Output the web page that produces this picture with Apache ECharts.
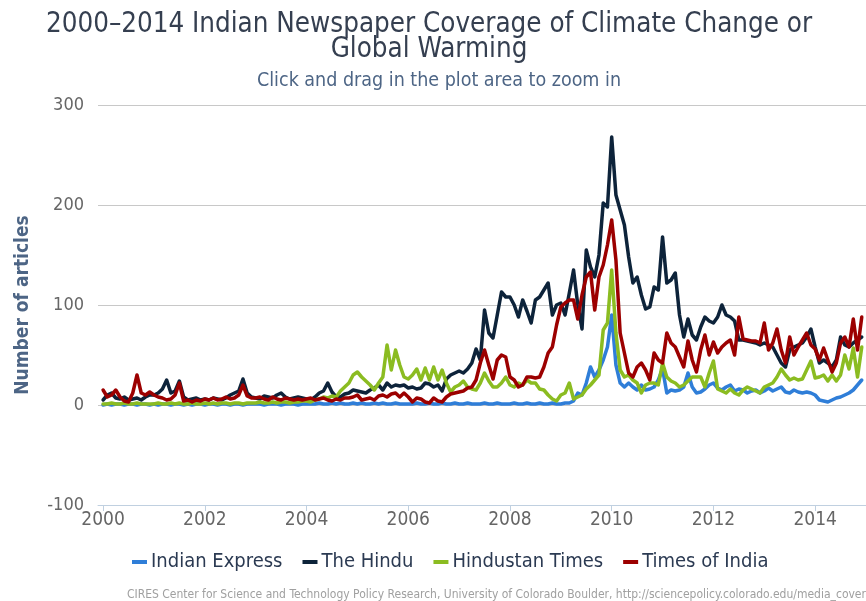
<!DOCTYPE html>
<html>
<head>
<meta charset="utf-8">
<script src="https://cdn.jsdelivr.net/npm/echarts@6/dist/echarts.min.js"></script>
<style>
html,body{margin:0;padding:0;background:#fff;}
#c{width:866px;height:601px;}
</style>
</head>
<body>
<div id="c"></div>
<script>
// Monthly article counts, Jan 2000 .. Dec 2014
const startYear = 2000;
const seriesNames = ['Indian Express', 'The Hindu', 'Hindustan Times', 'Times of India'];
const yearTicks = [2000, 2002, 2004, 2006, 2008, 2010, 2012, 2014];
const yTicks = [-100, 0, 100, 200, 300];

const indianExpress = [
  0,1,0,1,1,0,1,1,0,1,1,0,
  1,0,1,1,0,1,1,0,1,0,1,1,
  0,1,1,0,1,1,0,1,1,0,1,1,
  1,1,0,1,1,1,0,1,1,1,0,1,
  1,1,1,2,1,1,2,1,2,1,1,2,
  1,2,1,1,2,1,2,1,1,2,1,1,
  1,1,2,1,1,2,1,1,2,1,1,2,
  1,1,2,1,1,1,2,1,1,2,1,1,
  1,2,1,1,2,1,1,2,1,1,2,1,
  1,2,2,4,12,10,22,38,28,35,45,58,
  90,40,22,18,22,18,15,20,15,16,18,25,
  36,12,15,14,15,18,32,18,12,13,16,20,
  22,17,15,18,20,14,16,15,12,14,15,12,
  14,17,14,16,18,13,12,15,13,12,13,12,
  10,5,4,3,5,7,8,10,12,15,20,25
];
const theHindu = [
  5,10,12,7,6,8,5,6,7,5,8,10,
  10,12,16,25,12,14,24,8,5,6,7,5,
  6,5,7,6,5,7,10,12,14,26,12,8,
  7,6,9,8,7,10,12,8,6,7,8,7,
  6,5,8,12,14,22,13,8,8,11,12,15,
  14,13,12,15,17,20,15,22,18,20,19,20,
  17,18,16,17,22,21,18,20,14,26,30,32,
  34,32,36,42,56,45,95,72,67,90,113,108,
  108,100,88,105,94,82,105,108,115,122,90,100,
  102,90,112,135,100,76,155,138,128,150,202,198,
  268,210,195,180,148,122,128,110,96,98,118,115,
  168,122,125,132,90,68,86,70,65,78,88,84,
  82,88,100,90,88,84,65,65,64,63,62,60,
  62,60,58,50,42,38,55,58,60,62,68,76,
  58,42,45,42,38,45,68,60,58,62,65,68
];
const hindustanTimes = [
  1,1,2,1,1,2,1,1,2,1,1,1,
  1,2,1,1,2,1,2,1,1,2,1,1,
  2,1,2,1,2,2,1,2,2,1,2,2,
  2,3,2,2,3,2,3,3,2,3,3,4,
  4,3,5,6,8,7,9,8,14,18,22,30,
  33,28,24,20,15,22,28,60,35,55,40,28,
  26,30,36,25,37,25,38,25,35,22,13,18,
  20,24,18,16,15,22,32,24,18,18,22,28,
  20,18,22,20,25,22,22,16,15,10,6,4,
  10,12,22,6,8,10,16,20,25,30,75,82,
  135,72,35,28,30,25,22,12,20,22,22,20,
  42,28,24,22,18,20,24,28,28,28,18,32,
  44,16,14,12,16,12,10,15,18,16,14,12,
  18,20,22,28,36,30,25,27,25,26,35,44,
  27,28,30,24,30,24,30,50,36,57,28,58
];
const timesOfIndia = [
  15,8,10,15,8,4,3,12,30,12,10,13,
  10,8,7,5,6,10,22,4,5,3,5,4,
  6,5,7,5,6,8,6,7,10,20,9,7,
  7,8,6,5,8,6,5,7,6,5,6,5,
  6,7,5,6,7,5,4,6,5,7,7,8,
  10,5,6,7,5,9,10,8,11,12,8,12,
  8,3,7,6,3,2,7,4,3,8,11,12,
  13,14,17,18,25,42,55,40,26,45,50,48,
  28,25,18,20,28,28,27,28,38,52,58,80,
  98,102,105,105,86,110,128,133,95,128,140,160,
  185,145,72,52,32,28,38,42,35,25,52,45,
  42,72,62,58,48,38,64,45,33,55,70,50,
  63,52,58,62,65,50,88,66,65,64,64,62,
  82,55,62,76,55,42,68,50,58,65,72,60,
  56,45,57,45,33,42,62,68,58,86,55,88
];

const colors = ['#2f7ed8', '#0d233a', '#8bbc21', '#9c0000'];
const allValues = [indianExpress, theHindu, hindustanTimes, timesOfIndia];
const FONT = '"DejaVu Sans Condensed", "DejaVu Sans", sans-serif';

function toPairs(arr) {
  return arr.map((v, i) => [startYear + i / 12, v]);
}

const chart = echarts.init(document.getElementById('c'), null, {renderer: 'canvas'});
chart.setOption({
  animation: false,
  backgroundColor: '#ffffff',
  color: colors,
  title: [
    {
      text: '2000\u20132014 Indian Newspaper Coverage of Climate Change or\nGlobal Warming',
      left: 424, top: 7,
      textAlign: 'center',
      textStyle: {fontFamily: FONT, fontSize: 27.5, fontWeight: 'normal', color: '#353f50', lineHeight: 25, align: 'center'}
    },
    {
      text: 'Click and drag in the plot area to zoom in',
      left: 434, top: 66,
      textAlign: 'center',
      textStyle: {fontFamily: FONT, fontSize: 19.5, fontWeight: 'normal', color: '#4d6585'}
    },
    {
      text: 'CIRES Center for Science and Technology Policy Research, University of Colorado Boulder, http://sciencepolicy.colorado.edu/media_coverage',
      left: 122, top: 584,
      textStyle: {fontFamily: FONT, fontSize: 12, fontWeight: 'normal', color: '#a0a0a0'}
    }
  ],
  legend: {
    data: seriesNames,
    left: 127, top: 547,
    icon: 'rect', itemWidth: 15, itemHeight: 4, itemGap: 20,
    textStyle: {fontFamily: FONT, fontSize: 20, color: '#2b3a52', padding: [0, 0, 0, -1]}
  },
  grid: {left: 98, right: 0, top: 105, bottom: 96, containLabel: false},
  xAxis: {
    type: 'value',
    min: 1999.9, max: 2015,
    axisLine: {show: true, onZero: false, lineStyle: {color: '#c0d0e0', width: 1}},
    axisTick: {show: true, customValues: yearTicks, length: 6, lineStyle: {color: '#c0d0e0'}},
    axisLabel: {
      customValues: yearTicks, margin: 6,
      formatter: v => String(Math.round(v)),
      fontFamily: FONT, fontSize: 19, color: '#666666'
    },
    splitLine: {show: false}
  },
  yAxis: {
    type: 'value',
    min: yTicks[0], max: yTicks[yTicks.length - 1], interval: 100,
    name: 'Number of articles',
    nameLocation: 'middle', nameGap: 65,
    nameTextStyle: {fontFamily: FONT, fontSize: 19, fontWeight: 'bold', color: '#4d6585'},
    axisLine: {show: false},
    axisTick: {show: false},
    axisLabel: {margin: 14, fontFamily: FONT, fontSize: 18, color: '#666666'},
    splitLine: {show: true, lineStyle: {color: '#c8c8c8', width: 1}}
  },
  series: seriesNames.map((name, k) => ({
    name: name,
    type: 'line',
    data: toPairs(allValues[k]),
    showSymbol: false,
    symbol: 'none',
    lineStyle: {width: 3.5, color: colors[k], join: 'round', cap: 'round'},
    itemStyle: {color: colors[k]},
    emphasis: {disabled: true},
    z: 2 + k
  }))
});
</script>
</body>
</html>
